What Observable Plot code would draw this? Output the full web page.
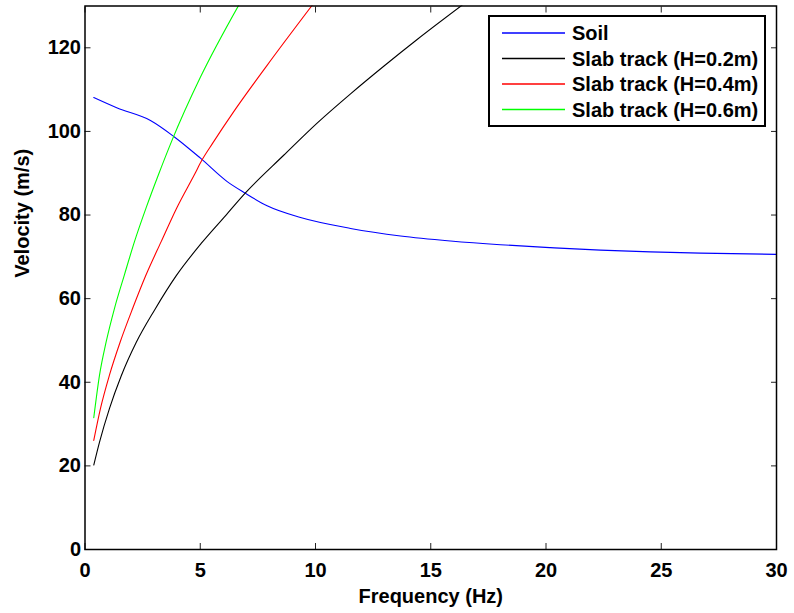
<!DOCTYPE html>
<html>
<head>
<meta charset="utf-8">
<script src="https://cdn.jsdelivr.net/npm/d3@7"></script>
<script src="https://cdn.jsdelivr.net/npm/@observablehq/plot@0.6"></script>
<style>
  html, body { margin: 0; padding: 0; background: #fff; }
  #wrap { position: relative; width: 794px; height: 613px; font-family: "Liberation Sans", Arial, sans-serif; }
  #legend { position: absolute; left: 488px; top: 15px; width: 274px; height: 108px; border: 2px solid #000; background: #fff; }
  #legend svg { position: absolute; left: 0; top: 0; }
</style>
</head>
<body>
<div id="wrap"></div>
<script>
// Soil
const soilF = [0.38, 1.4, 2.84, 3.85, 5.01, 6.17, 6.96, 7.9, 9.35, 11.52, 13.69, 15.86, 18.02, 20.19, 22.36, 24.53, 26.7, 30];
const soilV = [108.1, 105.6, 102.6, 98.8, 93.6, 88.0, 85.2, 82.2, 79.4, 76.8, 75.0, 73.8, 72.9, 72.2, 71.6, 71.2, 70.9, 70.6];
// Slab track H=0.2m
const h02F = [0.38, 0.63, 1.06, 1.57, 2.22, 3.02, 3.96, 5.04, 6.12, 6.96, 8.62, 10.07, 11.52, 12.96, 14.41, 16.36];
const h02V = [20.2, 25.7, 33.7, 41.5, 49.5, 57.3, 65.5, 73.2, 80.0, 85.3, 94.3, 102.0, 109.0, 115.6, 122.0, 130.2];
// Slab track H=0.4m
const h04F = [0.38, 0.67, 1.06, 1.53, 2.07, 2.65, 3.31, 3.98, 4.75, 5.08, 5.54, 6.46, 7.9, 9.86];
const h04V = [26.1, 33.7, 41.7, 49.7, 57.7, 65.7, 73.7, 81.7, 89.7, 93.2, 97.2, 104.8, 115.8, 130.2];
// Slab track H=0.6m
const h06F = [0.38, 0.63, 0.92, 1.28, 1.71, 2.15, 2.65, 3.19, 3.77, 5.01, 6.67];
const h06V = [31.5, 41.7, 49.7, 57.7, 65.7, 73.7, 81.7, 89.7, 97.8, 113.0, 130.2];

const seriesNames = ["Soil", "Slab track (H=0.2m)", "Slab track (H=0.4m)", "Slab track (H=0.6m)"];
const seriesColors = ["#0000ff", "#000000", "#ff0000", "#00ff00"];
const xTicks = [0, 5, 10, 15, 20, 25, 30];
const yTicks = [0, 20, 40, 60, 80, 100, 120];
const xLabel = "Frequency (Hz)";
const yLabel = "Velocity (m/s)";

const toRows = (F, V, s) => F.map((f, i) => ({f, v: V[i], s}));
const data = [
  ...toRows(soilF, soilV, seriesNames[0]),
  ...toRows(h02F, h02V, seriesNames[1]),
  ...toRows(h04F, h04V, seriesNames[2]),
  ...toRows(h06F, h06V, seriesNames[3])
];

const fontFam = "Liberation Sans, Arial, sans-serif";
const chart = Plot.plot({
  width: 794,
  height: 613,
  marginLeft: 84.5,
  marginRight: 18,
  marginTop: 5.5,
  marginBottom: 64,
  style: {fontFamily: fontFam, fontSize: "20px", fontWeight: "bold", color: "#000", background: "#fff"},
  x: {domain: [0, 30]},
  y: {domain: [0, 130]},
  color: {domain: seriesNames, range: seriesColors.slice()},
  marks: [
    Plot.line(data, {x: "f", y: "v", z: "s", stroke: "s", strokeWidth: 1.1, clip: true, curve: "monotone-x"}),
    Plot.axisX({anchor: "bottom", ticks: xTicks, tickSize: -6, tickPadding: 19, label: null, stroke: "#222"}),
    Plot.axisX({anchor: "top", ticks: xTicks, tickSize: -6, tickFormat: () => "", label: null, stroke: "#222"}),
    Plot.axisY({anchor: "left", ticks: yTicks, tickSize: -6, tickPadding: 10, label: null, stroke: "#222"}),
    Plot.axisY({anchor: "right", ticks: yTicks, tickSize: -6, tickFormat: () => "", label: null, stroke: "#222"}),
    Plot.frame({stroke: "#000", strokeWidth: 1.5}),
    Plot.text([xLabel], {text: d => d, frameAnchor: "bottom", dy: 53, fontSize: 20, fontWeight: "bold", fill: "#000"}),
    Plot.text([yLabel], {text: d => d, frameAnchor: "left", dx: -62, rotate: -90, fontSize: 20, fontWeight: "bold", fill: "#000"})
  ]
});
const wrap = document.getElementById("wrap");
wrap.appendChild(chart);

// Legend
const legend = d3.select(wrap).append("div").attr("id", "legend");
const lsvg = legend.append("svg").attr("width", 274).attr("height", 108)
  .style("font-family", fontFam).style("font-size", "20px").style("font-weight", "bold");
const rowY = [16, 41.5, 67, 92.5];
seriesNames.forEach((name, i) => {
  lsvg.append("line").attr("x1", 12).attr("x2", 75).attr("y1", rowY[i]).attr("y2", rowY[i])
    .attr("stroke", seriesColors[i]).attr("stroke-width", 1.3);
  lsvg.append("text").attr("x", 82).attr("y", rowY[i]).attr("dy", "0.36em").attr("fill", "#000").text(name);
});
</script>
</body>
</html>
